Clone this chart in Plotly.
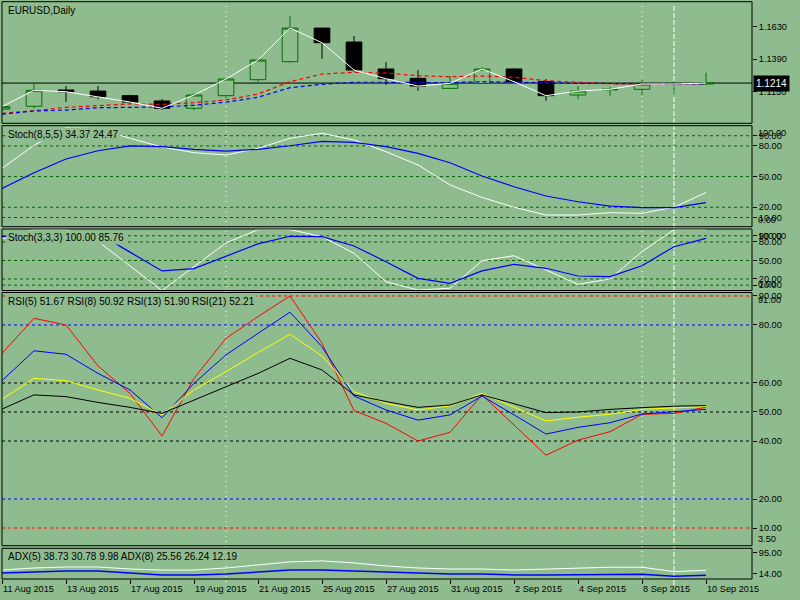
import plotly.graph_objects as go

# ---- data (EURUSD daily, MT4 style) ----
dates = ["11 Aug 2015", "12 Aug 2015", "13 Aug 2015", "14 Aug 2015", "17 Aug 2015",
         "18 Aug 2015", "19 Aug 2015", "20 Aug 2015", "21 Aug 2015", "24 Aug 2015",
         "25 Aug 2015", "26 Aug 2015", "27 Aug 2015", "28 Aug 2015", "31 Aug 2015",
         "1 Sep 2015", "2 Sep 2015", "3 Sep 2015", "4 Sep 2015", "7 Sep 2015",
         "8 Sep 2015", "9 Sep 2015", "10 Sep 2015"]

opens = [1.1022, 1.1043, 1.1163, 1.1155, 1.1121, 1.1082, 1.1028, 1.1121, 1.1239, 1.1372,
         1.1620, 1.1517, 1.1318, 1.1249, 1.1175, 1.1212, 1.1318, 1.1226, 1.1126, 1.1164,
         1.1168, 1.1205, 1.1207]
highs = [1.1045, 1.1212, 1.1192, 1.1192, 1.1128, 1.1096, 1.1141, 1.1244, 1.1384, 1.1709,
         1.1620, 1.1561, 1.1369, 1.1310, 1.1266, 1.1335, 1.1325, 1.1244, 1.1192, 1.1187,
         1.1237, 1.1224, 1.1290]
lows = [1.1010, 1.1025, 1.1076, 1.1094, 1.1060, 1.1015, 1.1015, 1.1102, 1.1224, 1.1364,
        1.1394, 1.1298, 1.1200, 1.1158, 1.1175, 1.1212, 1.1224, 1.1084, 1.1094, 1.1121,
        1.1126, 1.1126, 1.1198]
closes = [1.1040, 1.1161, 1.1150, 1.1113, 1.1074, 1.1028, 1.1126, 1.1244, 1.1384, 1.1620,
          1.1512, 1.1310, 1.1246, 1.1192, 1.1212, 1.1318, 1.1224, 1.1121, 1.1155, 1.1168,
          1.1207, 1.1207, 1.1214]
ma_red = [1.0991, 1.1010, 1.1035, 1.1050, 1.1060, 1.1057, 1.1069, 1.1089, 1.1133, 1.1224,
          1.1281, 1.1293, 1.1288, 1.1268, 1.1261, 1.1266, 1.1257, 1.1231, 1.1220, 1.1209,
          1.1207, 1.1207, 1.1209]
ma_blue = [1.0984, 1.1008, 1.1015, 1.1032, 1.1035, 1.1037, 1.1050, 1.1073, 1.1109, 1.1180,
           1.1205, 1.1220, 1.1220, 1.1217, 1.1217, 1.1224, 1.1222, 1.1217, 1.1212, 1.1212,
           1.1207, 1.1207, 1.1207]

stoch1_main = [58, 80.6, 98, 97, 87.5, 79, 73.4, 71.1, 77.7, 87.5, 92.4, 85.8, 74.4, 61.4,
               41.8, 29.7, 20, 12.4, 12.4, 14.7, 14.1, 20, 34.37]
stoch1_signal = [38.5, 53.8, 67.2, 75.3, 80, 79.3, 76.7, 75, 76.7, 80.2, 84.5, 83.5, 79.3,
                 72.8, 63.6, 50.6, 40.1, 31, 25.4, 21.2, 19.6, 19.6, 24.47]
stoch2_main = [85, 100, 100, 81, 41.2, 1, 40, 78.4, 100, 100, 88.5, 61.6, 15.6, 2, 4.9,
               49.6, 57.7, 34.5, 11.3, 20, 64.2, 100, 100]
stoch2_signal = [88.5, 93, 96, 94, 63.5, 33, 36.8, 56.2, 76.8, 89.2, 88.5, 73.5, 48, 21, 13,
                 33, 43.8, 37.3, 24.8, 23.7, 41.5, 72.3, 85.76]

rsi5 = [70.2, 82.3, 80, 65.9, 56.4, 41.7, 61.6, 75.4, 82.9, 90, 73.7, 50.5, 46.1, 40, 43,
        55.9, 45.5, 35.1, 40.3, 43.2, 49.2, 49.5, 51.67]
rsi8 = [60.8, 71.1, 69.9, 63.3, 57.6, 48, 59.9, 69.7, 77.1, 84.4, 72.5, 55.5, 50.7, 47.2, 49,
        55.5, 49, 42.4, 44.7, 46.3, 49.3, 50.1, 50.92]
rsi13 = [54.4, 61.6, 60.8, 57.6, 54.7, 49, 57.6, 63.9, 70.5, 76.8, 69.3, 57, 53, 50.7, 52.1,
         56.4, 51.7, 46.9, 48.2, 49.2, 50.9, 51.3, 51.9]
rsi21 = [51, 55.9, 55.3, 53.3, 51.6, 49.5, 54.1, 58.7, 63.3, 68.5, 64.5, 55.9, 53.6, 51.6,
         52.4, 55.9, 52.9, 49.8, 50, 50.9, 51.5, 52, 52.21]

adx_main = [27, 35, 39, 39, 31, 27, 27, 35, 47, 59, 63, 55, 43, 35, 31, 31, 27, 31, 35, 38,
            38, 20.5, 26]
adx_di = [15, 19, 23, 23, 15, 7.5, 7.5, 11, 19, 27, 27, 23, 19, 15, 11, 11, 7.5, 7.5, 9, 10,
          10, 2.4, 6]

price_ticks = [1.1150, 1.1390, 1.1630]
stoch_levels = [10, 20, 50, 80, 90]
rsi_ticks = [10, 20, 40, 50, 60, 80, 90]
rsi_red_levels = [10, 90]
rsi_blue_levels = [20, 80]
rsi_black_levels = [40, 50, 60]
adx_ticks = [14, 95]
separator_dates = ["20 Aug 2015", "8 Sep 2015"]
cursor_date = "9 Sep 2015"

labels = {
    "y": "EURUSD,Daily",
    "y2": "Stoch(8,5,5) 34.37 24.47",
    "y3": "Stoch(3,3,3) 100.00 85.76",
    "y4": "RSI(5) 51.67 RSI(8) 50.92 RSI(13) 51.90 RSI(21) 52.21",
    "y5": "ADX(5) 38.73 30.78 9.98 ADX(8) 25.56 26.24 12.19",
}

# ---- styling / geometry ----
BG = "#8fbc8f"
FONT = "Liberation Sans"
FS = 10      # pane captions
FS_AX = 9.2  # scale and date labels
W, H = 800, 600
x = list(range(len(dates)))


def dom(top, bottom):
    return [1 - bottom / H, 1 - top / H]


panels = {  # pixel top/bottom of each pane
    "y": (1.7, 123.3),
    "y2": (125.7, 226.7),
    "y3": (229.0, 290.5),
    "y4": (292.5, 545.7),
    "y5": (548.3, 579.0),
}
ranges = {
    "y": [1.09171, 1.18145],
    "y2": [0.98, 99.8],
    "y3": [1.3, 101.0],
    "y4": [3.9, 91.2],
    "y5": [-8.3, 112.5],
}

fig = go.Figure()

fig.add_trace(go.Candlestick(
    x=x, open=opens, high=highs, low=lows, close=closes,
    increasing=dict(line=dict(color="#007000", width=1), fillcolor=BG),
    decreasing=dict(line=dict(color="black", width=1), fillcolor="black"),
    yaxis="y", hoverinfo="skip"))
fig.add_trace(go.Scatter(x=x, y=ma_red, mode="lines", yaxis="y",
                         line=dict(color="red", width=1.2, dash="4px,3px")))
fig.add_trace(go.Scatter(x=x, y=ma_blue, mode="lines", yaxis="y",
                         line=dict(color="blue", width=1.2, dash="4px,3px")))
fig.add_trace(go.Scatter(x=x, y=closes, mode="lines", yaxis="y",
                         line=dict(color="white", width=1)))

fig.add_trace(go.Scatter(x=x, y=stoch1_main, mode="lines", yaxis="y2",
                         line=dict(color="white", width=1)))
fig.add_trace(go.Scatter(x=x, y=stoch1_signal, mode="lines", yaxis="y2",
                         line=dict(color="blue", width=1.2)))
fig.add_trace(go.Scatter(x=x, y=stoch2_main, mode="lines", yaxis="y3",
                         line=dict(color="white", width=1)))
fig.add_trace(go.Scatter(x=x, y=stoch2_signal, mode="lines", yaxis="y3",
                         line=dict(color="blue", width=1.2)))

for vals, col in [(rsi5, "red"), (rsi8, "blue"), (rsi13, "yellow"), (rsi21, "black")]:
    fig.add_trace(go.Scatter(x=x, y=vals, mode="lines", yaxis="y4",
                             line=dict(color=col, width=1)))

fig.add_trace(go.Scatter(x=x, y=adx_main, mode="lines", yaxis="y5",
                         line=dict(color="white", width=1)))
fig.add_trace(go.Scatter(x=x, y=adx_di, mode="lines", yaxis="y5",
                         line=dict(color="blue", width=1.5)))

shapes = []
# pane borders
for key, (top, bottom) in panels.items():
    d = dom(top, bottom)
    shapes.append(dict(type="rect", xref="paper", yref="paper", x0=0, x1=1, y0=d[0], y1=d[1],
                       line=dict(color="black", width=1), layer="above"))


def hline(axis, val, color, dash="3px,3px"):
    shapes.append(dict(type="line", xref="paper", x0=0, x1=1, yref=axis, y0=val, y1=val,
                       line=dict(color=color, width=1, dash=dash), layer="below"))


for lv in stoch_levels:
    hline("y2", lv, "#006400")
    hline("y3", lv, "#006400")
for lv in rsi_red_levels:
    hline("y4", lv, "red")
for lv in rsi_blue_levels:
    hline("y4", lv, "blue")
for lv in rsi_black_levels:
    hline("y4", lv, "black")
hline("y", closes[-1], "black", dash="solid")

top_p = dom(*panels["y"])[1]
bot_p = dom(*panels["y5"])[0]
for d in separator_dates:
    shapes.append(dict(type="line", xref="x", x0=dates.index(d), x1=dates.index(d),
                       yref="paper", y0=bot_p - 0.005, y1=top_p - 0.004,
                       line=dict(color="white", width=1, dash="1px,4px"), layer="below"))
shapes.append(dict(type="line", xref="x", x0=dates.index(cursor_date), x1=dates.index(cursor_date),
                   yref="paper", y0=bot_p - 0.01, y1=top_p - 0.004,
                   line=dict(color="white", width=1, dash="5px,2px"), layer="below"))

annotations = []
for key, text in labels.items():
    top, bottom = panels[key]
    annotations.append(dict(text=text, xref="paper", x=(6 - 2) / 750, xanchor="left",
                            yref="paper", y=1 - (top + 8.5) / H, yanchor="middle",
                            showarrow=False, bgcolor=BG, borderpad=1,
                            font=dict(family=FONT, size=FS, color="black")))

# extreme scale labels drawn at pane edges
edge_labels = [("y2", "100.00", 1, "top"), ("y2", "0.00", 0, "bottom"),
               ("y3", "100.00", 1, "top"), ("y3", "0.00", 0, "bottom"),
               ("y4", "91.00", 1, "top"), ("y4", "3.50", 0, "bottom")]
for key, text, ypos, anchor in edge_labels:
    annotations.append(dict(text=text, xref="paper", x=1, xanchor="left", xshift=4,
                            yref=key + " domain", y=ypos, yanchor=anchor, showarrow=False,
                            font=dict(family=FONT, size=FS_AX, color="black")))

annotations.append(dict(text=f"{closes[-1]:.4f}", xref="paper", x=1, xanchor="left", xshift=1,
                        yref="y", y=closes[-1], yanchor="middle", showarrow=False,
                        bgcolor="black", borderpad=2,
                        font=dict(family=FONT, size=FS, color="white")))

for i in x[::2]:
    annotations.append(dict(text=dates[i], xref="x", x=i, xanchor="left", xshift=-1,
                            yref="paper", y=1 - 588.5 / H, yanchor="middle", showarrow=False,
                            font=dict(family=FONT, size=FS_AX, color="black")))

axis_common = dict(side="right", anchor="x", ticks="outside", ticklen=4, tickcolor="black",
                   showgrid=False, zeroline=False, showline=False,
                   tickfont=dict(family=FONT, size=FS_AX, color="black"))

fig.update_layout(
    width=W, height=H, margin=dict(l=2, r=48, t=0, b=0),
    paper_bgcolor=BG, plot_bgcolor=BG, showlegend=False,
    shapes=shapes, annotations=annotations,
    xaxis=dict(domain=[0, 1], range=[0, 750 / 32], anchor="y5", tickvals=x[::2],
               ticks="outside", ticklen=4, tickcolor="black", showticklabels=False,
               showgrid=False, zeroline=False, rangeslider=dict(visible=False)),
    yaxis=dict(domain=dom(*panels["y"]), range=ranges["y"], tickvals=price_ticks,
               ticktext=[f"{v:.4f}" for v in price_ticks], **axis_common),
    yaxis2=dict(domain=dom(*panels["y2"]), range=ranges["y2"], tickvals=stoch_levels,
                ticktext=[f"{v:.2f}" for v in stoch_levels], **axis_common),
    yaxis3=dict(domain=dom(*panels["y3"]), range=ranges["y3"], tickvals=stoch_levels,
                ticktext=[f"{v:.2f}" for v in stoch_levels], **axis_common),
    yaxis4=dict(domain=dom(*panels["y4"]), range=ranges["y4"], tickvals=rsi_ticks,
                ticktext=[f"{v:.2f}" for v in rsi_ticks], **axis_common),
    yaxis5=dict(domain=dom(*panels["y5"]), range=ranges["y5"], tickvals=adx_ticks,
                ticktext=[f"{v:.2f}" for v in adx_ticks], **axis_common),
)

# the page body has a default 8px margin; drop it so the chart sits at the window corner
fig.write_html("out.html", config={"displayModeBar": False},
               post_script="document.body.style.margin='0px';")
